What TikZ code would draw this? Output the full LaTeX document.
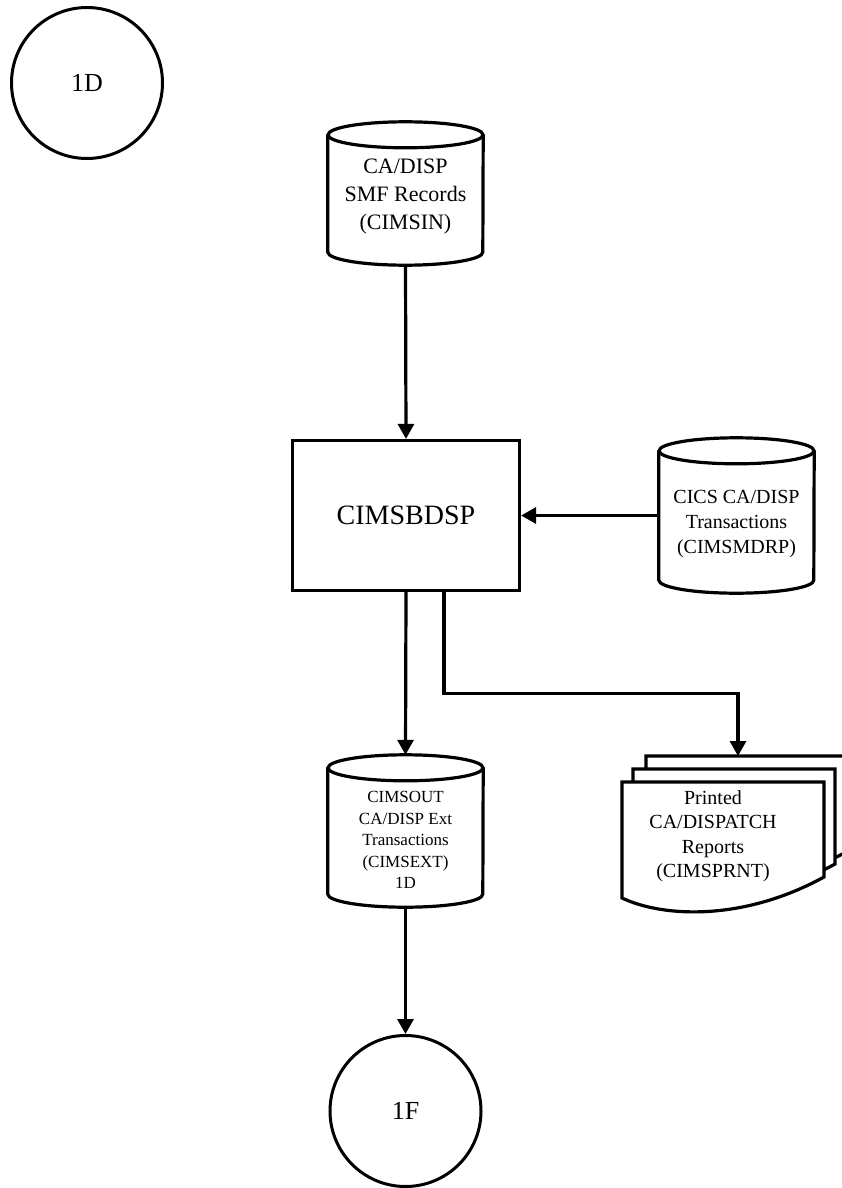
\documentclass[tikz,border=0pt]{standalone}
\usepackage{fontspec}
\setmainfont{Liberation Serif}
\usetikzlibrary{arrows.meta}

\begin{document}
\begin{tikzpicture}[x=1pt,y=1pt,
  line/.style={line width=3.2pt},
  flow/.style={line width=3.2pt,-{Triangle[length=15pt,width=16pt]}},
  conn/.style={circle,draw,line width=3pt,minimum size=151pt,inner sep=0pt,
    font=\fontsize{26}{30}\selectfont},
  store/.style={minimum width=155pt,inner sep=0pt},
  label/.style={align=center,inner sep=0pt},
  prog/.style={draw,line width=3.2pt,minimum width=227pt,minimum height=150pt,
    font=\fontsize{28}{32}\selectfont}]
  \useasboundingbox (0,0) rectangle (842,-1188);

  % off-page connectors
  \node[conn] (conD) at (87,-83) {1D};
  \node[conn] (conF) at (405.5,-1111) {1F};

  % program
  \node[prog] (bdsp) at (406,-515.5) {CIMSBDSP};

  % data sets
  \node[store,minimum height=143pt] (smfin) at (405.5,-193.5) {};
  \node[store,minimum height=155pt] (mdrp) at (736.5,-515.5) {};
  \node[store,minimum height=152pt] (extout) at (405.5,-831) {};
  \foreach \n in {smfin,mdrp,extout}{
    \draw[line] ([yshift=-13pt]\n.north) ellipse [x radius=77.5, y radius=13];
    \draw[line] ([yshift=-13pt]\n.north west) -- ([yshift=13pt]\n.south west)
      arc[start angle=180, end angle=360, x radius=77.5, y radius=13]
      -- ([yshift=-13pt]\n.north east);
  }
  \node[label,font=\fontsize{22}{28}\selectfont] (smfin-t) at ([yshift=-3pt]smfin.center)
    {CA/DISP\\SMF Records\\(CIMSIN)};
  \node[label,font=\fontsize{20}{25}\selectfont] (mdrp-t) at ([yshift=-9pt]mdrp.center)
    {CICS CA/DISP\\Transactions\\(CIMSMDRP)};
  \node[label,font=\fontsize{17}{21.5}\selectfont] (extout-t) at ([yshift=-9pt]extout.center)
    {CIMSOUT\\CA/DISP Ext\\Transactions\\(CIMSEXT)\\1D};

  % report stack
  \foreach \dx/\dy in {24/26,11/13,0/0}
    \draw[line,fill=white] (622+\dx,-782+\dy) -- ++(0,-116)
      .. controls ++(40,-19) and ++(-82,-45) .. ++(202,21) -- ++(0,95) -- cycle;
  \node[label,font=\fontsize{20}{24.5}\selectfont] (prnt) at (713,-836)
    {Printed\\CA/DISPATCH\\Reports\\(CIMSPRNT)};
  \coordinate (prnttop) at (738,-756);

  % flows
  \draw[flow] (smfin.south) -- (bdsp.north);
  \draw[flow] (mdrp.west) -- (bdsp.east);
  \draw[flow] (bdsp.south) -- (extout.north);
  \draw[flow] ([xshift=38pt]bdsp.south) -- ++(0,-101) -| (prnttop);
  \draw[flow] (extout.south) -- (conF.north);
\end{tikzpicture}
\end{document}
